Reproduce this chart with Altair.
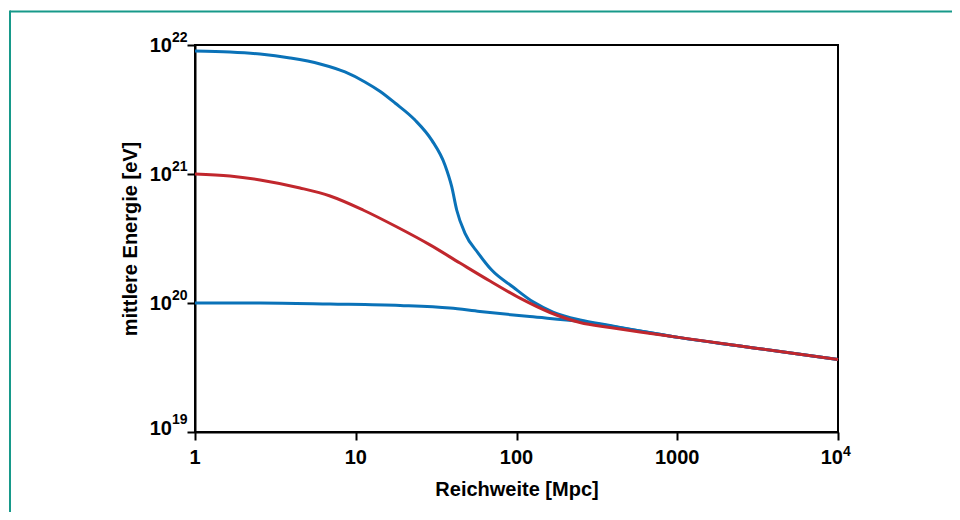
import altair as alt
import pandas as pd

# ---------------- data ----------------
blue_top_x = [1, 1.65, 2.54, 3.9, 6.0, 8.57, 11.4, 14.2, 17.55, 23.37, 29.69, 35.92, 39.54,
              42.46, 47.83, 57.86, 70.1, 95.1, 126.8, 168.7, 248.3, 381.6, 586.7, 1040,
              2457, 5801, 10000]
blue_top_y = [8.99e21, 8.83e21, 8.51e21, 7.93e21, 7.13e21, 6.18e21, 5.17e21, 4.36e21, 3.55e21,
              2.62e21, 1.83e21, 1.17e21, 7.97e20, 5.26e20, 3.47e20, 2.43e20, 1.80e20, 1.33e20,
              1.02e20, 8.51e19, 7.38e19, 6.69e19, 6.07e19, 5.39e19, 4.64e19, 4.00e19, 3.65e19]

red_x = [1, 1.65, 2.54, 4.5, 6.92, 11.1, 18.06, 28.97, 44.5, 68.4, 105.1, 161.6,
         248.3, 381.6, 586.7, 1040, 2457, 5801, 10000]
red_y = [1.0e21, 9.65e20, 8.99e20, 7.79e20, 6.75e20, 5.26e20, 3.88e20, 2.82e20, 2.04e20,
         1.48e20, 1.09e20, 8.44e19, 7.06e19, 6.46e19, 5.96e19, 5.39e19, 4.64e19, 4.00e19,
         3.65e19]

blue_bot_x = [1, 2.54, 6.92, 18.9, 38.5, 59.2, 121, 248.3, 381.6, 586.7, 1040, 2457, 5801,
              10000]
blue_bot_y = [1.0e20, 1.0e20, 9.82e19, 9.57e19, 9.14e19, 8.59e19, 7.85e19, 7.19e19, 6.63e19,
              6.07e19, 5.39e19, 4.64e19, 4.00e19, 3.65e19]

x_ticks = [1, 10, 100, 1000, 10000]
x_labels = ["1", "10", "100", "1000"]
y_ticks = [1e19, 1e20, 1e21, 1e22]
y_exps = ["19", "20", "21", "22"]

x_title = "Reichweite [Mpc]"
y_title = "mittlere Energie [eV]"

# ---------------- styling ----------------
W, H = 643, 387
PAD_L, PAD_T, PAD_R, PAD_B = 187, 37, 114, 80
FONT = "Liberation Sans"
BLUE = "#0a72b8"
RED = "#c1272d"
TEAL = "#17998a"
FS = 20      # main text size
FE = 14      # exponent size

rows = []
for name, xs, ys in [("blue_top", blue_top_x, blue_top_y),
                     ("blue_bot", blue_bot_x, blue_bot_y),
                     ("red", red_x, red_y)]:
    for i, (a, b) in enumerate(zip(xs, ys)):
        rows.append({"series": name, "x": a, "y": b, "order": i})
df = pd.DataFrame(rows)

xscale = alt.Scale(type="log", domain=[1, 1e4], nice=False)
yscale = alt.Scale(type="log", domain=[1e19, 1e22], nice=False)

xaxis = alt.Axis(values=x_ticks, labels=False, grid=False, tickSize=8, tickWidth=2,
                 tickColor="black", domainColor="black", domainWidth=2,
                 title=x_title, titleFont=FONT, titleFontSize=FS, titleFontWeight="bold",
                 titleColor="black", titleX=W / 2, titleY=63, titleBaseline="alphabetic",
                 titleAlign="center")
yaxis = alt.Axis(values=y_ticks, labels=False, grid=False, tickSize=8, tickWidth=2,
                 tickColor="black", domainColor="black", domainWidth=2,
                 title=y_title, titleFont=FONT, titleFontSize=FS, titleFontWeight="bold",
                 titleColor="black", titleX=-59, titleY=H / 2, titleAngle=-90,
                 titleBaseline="alphabetic", titleAlign="center")

base = alt.Chart(df)
blue = base.transform_filter(alt.datum.series != "red").mark_line(
    color=BLUE, strokeWidth=3, interpolate="monotone").encode(
    x=alt.X("x:Q", scale=xscale, axis=xaxis),
    y=alt.Y("y:Q", scale=yscale, axis=yaxis),
    detail="series:N",
    order="order:Q",
)
red = base.transform_filter(alt.datum.series == "red").mark_line(
    color=RED, strokeWidth=3, interpolate="monotone").encode(
    x="x:Q", y="y:Q", order="order:Q")

ydf = pd.DataFrame({"v": y_ticks, "exp": y_exps, "base": ["10"] * len(y_ticks)})
txt = dict(font=FONT, fontWeight="bold", color="black")

ybase_main = alt.Chart(ydf).transform_filter(alt.datum.v > 2e19).mark_text(
    fontSize=FS, align="right", baseline="alphabetic", dx=-23, dy=7, **txt).encode(
    x=alt.datum(1), y="v:Q", text="base:N")
yexp_main = alt.Chart(ydf).transform_filter(alt.datum.v > 2e19).mark_text(
    fontSize=FE, align="left", baseline="alphabetic", dx=-23, dy=-3, **txt).encode(
    x=alt.datum(1), y="v:Q", text="exp:N")
ybase_low = alt.Chart(ydf).transform_filter(alt.datum.v < 2e19).mark_text(
    fontSize=FS, align="right", baseline="alphabetic", dx=-23, dy=3, **txt).encode(
    x=alt.datum(1), y="v:Q", text="base:N")
yexp_low = alt.Chart(ydf).transform_filter(alt.datum.v < 2e19).mark_text(
    fontSize=FE, align="left", baseline="alphabetic", dx=-23, dy=-8, **txt).encode(
    x=alt.datum(1), y="v:Q", text="exp:N")

xdf = pd.DataFrame({"v": x_ticks[:-1], "lab": x_labels})
xlab = alt.Chart(xdf).mark_text(fontSize=FS, align="center", baseline="alphabetic",
                                dy=32, **txt).encode(
    x="v:Q", y=alt.datum(1e19), text="lab:N")

x4 = pd.DataFrame({"v": [x_ticks[-1]], "base": ["10"], "exp": ["4"]})
x4base = alt.Chart(x4).mark_text(fontSize=FS, align="right", baseline="alphabetic",
                                 dx=5, dy=32, **txt).encode(
    x="v:Q", y=alt.datum(1e19), text="base:N")
x4exp = alt.Chart(x4).mark_text(fontSize=FE, align="left", baseline="alphabetic",
                                dx=5, dy=24, **txt).encode(
    x="v:Q", y=alt.datum(1e19), text="exp:N")

one = pd.DataFrame({"k": [0]})
frame_top = alt.Chart(one).mark_rule(color=TEAL, strokeWidth=2).encode(
    x=alt.value(-185), x2=alt.value(W + PAD_R), y=alt.value(-33.5))
frame_left = alt.Chart(one).mark_rule(color=TEAL, strokeWidth=2).encode(
    x=alt.value(-185), y=alt.value(-34.5), y2=alt.value(H + PAD_B))

chart = alt.layer(
    blue, red, ybase_main, yexp_main, ybase_low, yexp_low, xlab, x4base, x4exp,
    frame_top, frame_left,
).properties(
    width=W, height=H,
    padding={"left": PAD_L, "top": PAD_T, "right": PAD_R, "bottom": PAD_B},
    autosize=alt.AutoSizeParams(type="none"),
    background="white",
).configure_view(stroke="black", strokeWidth=2)

chart.save("out.html", embed_options={"renderer": "svg", "actions": False})
